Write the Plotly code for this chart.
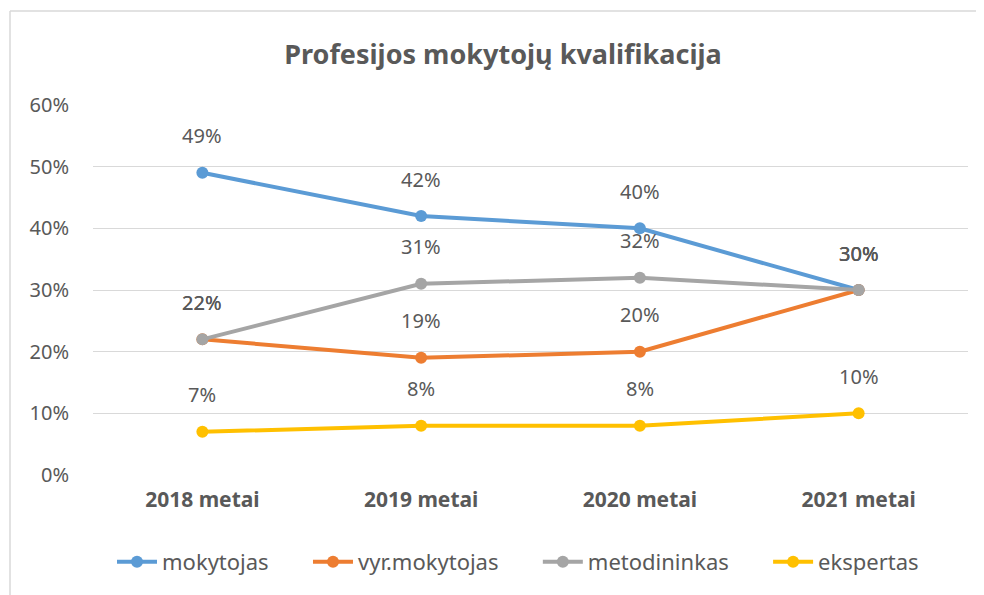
import plotly.graph_objects as go

categories = ["2018 metai", "2019 metai", "2020 metai", "2021 metai"]
mokytojas = [49, 42, 40, 30]
vyr_mokytojas = [22, 19, 20, 30]
metodininkas = [22, 31, 32, 30]
ekspertas = [7, 8, 8, 10]
y_ticks = [0, 10, 20, 30, 40, 50, 60]
y_tick_labels = [f"{v}%" for v in y_ticks]

series = [
    ("mokytojas", mokytojas, "#5B9BD5"),
    ("vyr.mokytojas", vyr_mokytojas, "#ED7D31"),
    ("metodininkas", metodininkas, "#A5A5A5"),
    ("ekspertas", ekspertas, "#FFC000"),
]

FONT = "Noto Sans"
TXT = "#595959"
PAD = "\u00a0" * 6  # spacing between legend entries

fig = go.Figure()
annotations = []
for i, (name, vals, color) in enumerate(series):
    label = name + (PAD if i < len(series) - 1 else "")
    fig.add_trace(go.Scatter(
        x=categories, y=vals, name=label, mode="lines+markers",
        line=dict(color=color, width=4),
        marker=dict(color=color, size=12),
    ))
    for c, v in zip(categories, vals):
        annotations.append(dict(
            x=c, y=v, text=f"{v}%", showarrow=False, yshift=37,
            font=dict(family=FONT, size=20, color=TXT),
        ))

# the page body has an 8px margin, so figure coordinates = screen px - 8
OFF = 8
W, H = 984 - 2 * OFF, 595 - OFF
L, T = 93 - OFF, 105 - OFF
R = W - (968 - OFF)
B = H - (475 - OFF)
pw, ph = W - L - R, H - T - B

def px_x(p):
    return (p - OFF - L) / pw

def px_y(p):
    return (H - B - (p - OFF)) / ph

shapes = [
    dict(type="line", xref="paper", yref="paper",
         x0=px_x(10), x1=px_x(10), y0=px_y(600), y1=px_y(11),
         line=dict(color="#D9D9D9", width=1.5)),
    dict(type="line", xref="paper", yref="paper",
         x0=px_x(10), x1=px_x(990), y0=px_y(11), y1=px_y(11),
         line=dict(color="#D9D9D9", width=1.5)),
]

fig.update_layout(
    width=W, height=H,
    margin=dict(l=L, r=R, t=T, b=B, autoexpand=False),
    paper_bgcolor="white", plot_bgcolor="white",
    title=dict(text="<b>Profesijos mokytojų kvalifikacija</b>",
               x=(503 - OFF) / W, xanchor="center",
               y=1 - (55 - OFF) / H, yanchor="middle",
               font=dict(family=FONT, size=27, color=TXT)),
    font=dict(family=FONT, size=20, color=TXT),
    showlegend=True,
    legend=dict(orientation="h", x=px_x(518), xanchor="center",
                y=px_y(562), yanchor="middle",
                font=dict(family=FONT, size=22, color=TXT),
                itemwidth=40, tracegroupgap=0),
    xaxis=dict(range=[-0.5, 3.5], showgrid=False, zeroline=False,
               showline=False, ticks="", ticklabelstandoff=10,
               tickfont=dict(family=FONT, size=21, color=TXT, weight="bold")),
    yaxis=dict(range=[0, 60], tickvals=y_ticks, ticktext=y_tick_labels,
               showgrid=True, gridcolor="#D9D9D9", gridwidth=1,
               zeroline=False, showline=False, ticks="",
               ticklabelstandoff=23,
               tickfont=dict(family=FONT, size=20, color=TXT)),
    annotations=annotations,
    shapes=shapes,
)

fig.write_html("out.html")
